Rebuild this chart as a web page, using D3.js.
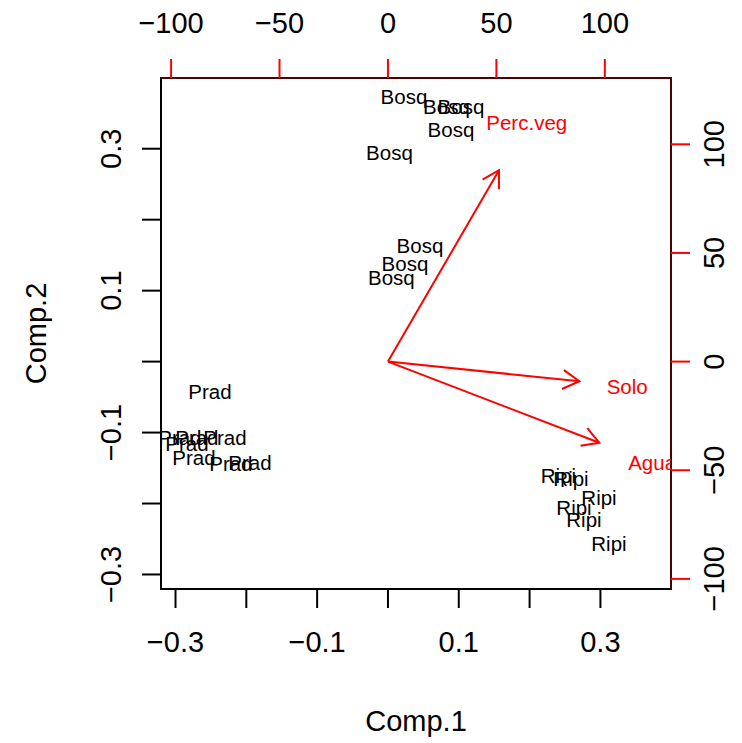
<!DOCTYPE html>
<html><head><meta charset="utf-8">
<script src="https://cdn.jsdelivr.net/npm/d3@7/dist/d3.min.js"></script>
<style>body{margin:0;background:#fff}svg{display:block}text{font-family:"Liberation Sans",Arial,sans-serif}</style>
</head><body>
<script>
// Scores (Comp.1, Comp.2)
const obsLabels = ["Bosq","Bosq","Bosq","Bosq","Bosq","Bosq","Bosq","Bosq",
  "Prad","Prad","Prad","Prad","Prad","Prad","Prad","Prad",
  "Ripi","Ripi","Ripi","Ripi","Ripi","Ripi"];
const comp1 = [0.0226,0.0826,0.1031,0.0890,0.0021,0.0452,0.0240,0.0049,
  -0.2514,-0.2938,-0.2698,-0.2302,-0.2839,-0.2740,-0.2218,-0.1949,
  0.2408,0.2585,0.2980,0.2627,0.2768,0.3121];
const comp2 = [0.3730,0.3590,0.3590,0.3265,0.2940,0.1629,0.1375,0.1178,
  -0.0430,-0.1065,-0.1065,-0.1065,-0.1149,-0.1347,-0.1432,-0.1417,
  -0.1608,-0.1650,-0.1911,-0.2059,-0.2221,-0.2567];
// Loadings
const varLabels = ["Perc.veg","Solo","Agua"];
const load1 = [64.0,110.3,121.8];
const load2 = [110.1,-11.3,-46.7];
// Axis ticks
const scoreTicks = [-0.3,-0.2,-0.1,0,0.1,0.2,0.3];
const scoreTickLabels = ["−0.3","","−0.1","","0.1","","0.3"];
const loadTicks = [-100,-50,0,50,100];
const loadTickLabels = ["−100","−50","0","50","100"];
const xTitle = "Comp.1", yTitle = "Comp.2";

const W=742,H=743;
const L=161,R=671,T=78,B=589;
const svg=d3.select("body").append("svg").attr("width",W).attr("height",H);

// limits as R biplot
const ur = a => [-Math.abs(d3.min(a)), Math.abs(d3.max(a))];
const rx1=ur(comp1), rx2=ur(comp2);
const lim=[Math.min(rx1[0],rx2[0]),Math.max(rx1[1],rx2[1])];
const ry1=ur(load1), ry2=ur(load2);
const ratio=Math.max(ry1[0]/lim[0],ry1[1]/lim[1],ry2[0]/lim[0],ry2[1]/lim[1]);
const pad=(lim[1]-lim[0])*0.04;
const dom=[lim[0]-pad,lim[1]+pad];
const x=d3.scaleLinear().domain(dom).range([L,R]);
const y=d3.scaleLinear().domain(dom).range([B,T]);
const x2=d3.scaleLinear().domain(dom.map(v=>v*ratio)).range([L,R]);
const y2=d3.scaleLinear().domain(dom.map(v=>v*ratio)).range([B,T]);

svg.append("defs").append("clipPath").attr("id","clip").append("rect")
  .attr("x",L).attr("y",T).attr("width",R-L).attr("height",B-T);

const FS_AX=29, FS_PT=20.5, TK=19;
// bottom axis
const gb=svg.append("g");
gb.append("line").attr("x1",x(-0.3)).attr("x2",x(0.3)).attr("y1",B).attr("y2",B).attr("stroke","#000").attr("stroke-width",2);
scoreTicks.forEach((t,i)=>{
  gb.append("line").attr("x1",x(t)).attr("x2",x(t)).attr("y1",B).attr("y2",B+TK).attr("stroke","#000").attr("stroke-width",2);
  if(scoreTickLabels[i]) gb.append("text").attr("x",x(t)).attr("y",651.5).attr("text-anchor","middle").attr("font-size",FS_AX).text(scoreTickLabels[i]);
});
// left axis
scoreTicks.forEach((t,i)=>{
  svg.append("line").attr("x1",L-TK).attr("x2",L).attr("y1",y(t)).attr("y2",y(t)).attr("stroke","#000").attr("stroke-width",2);
  if(scoreTickLabels[i]) svg.append("text").attr("transform",`translate(120.5,${y(t)}) rotate(-90)`).attr("text-anchor","middle").attr("font-size",FS_AX).text(scoreTickLabels[i]);
});
svg.append("text").attr("x",(L+R)/2).attr("y",730.5).attr("text-anchor","middle").attr("font-size",FS_AX).text(xTitle);
svg.append("text").attr("transform",`translate(45.5,${(T+B)/2}) rotate(-90)`).attr("text-anchor","middle").attr("font-size",FS_AX).text(yTitle);

// points
const gp=svg.append("g").attr("clip-path","url(#clip)");
obsLabels.forEach((lab,i)=>{
  gp.append("text").attr("x",x(comp1[i])).attr("y",y(comp2[i])+FS_PT*0.36).attr("text-anchor","middle")
    .attr("font-size",FS_PT).attr("fill","#000").text(lab);
});
// box
svg.append("rect").attr("x",L).attr("y",T).attr("width",R-L).attr("height",B-T).attr("fill","none").attr("stroke","#000").attr("stroke-width",2);

// top & right axes (red)
svg.append("line").attr("x1",L).attr("x2",R).attr("y1",T).attr("y2",T).attr("stroke","#500000").attr("stroke-width",2);
svg.append("line").attr("x1",R).attr("x2",R).attr("y1",T).attr("y2",B).attr("stroke","#500000").attr("stroke-width",2);
loadTicks.forEach((t,i)=>{
  svg.append("line").attr("x1",x2(t)).attr("x2",x2(t)).attr("y1",T-TK).attr("y2",T).attr("stroke","red").attr("stroke-width",2);
  svg.append("text").attr("x",x2(t)).attr("y",32.5).attr("text-anchor","middle").attr("font-size",FS_AX).text(loadTickLabels[i]);
  svg.append("line").attr("x1",R).attr("x2",R+TK).attr("y1",y2(t)).attr("y2",y2(t)).attr("stroke","red").attr("stroke-width",2);
  svg.append("text").attr("transform",`translate(723.5,${y2(t)}) rotate(-90)`).attr("text-anchor","middle").attr("font-size",FS_AX).text(loadTickLabels[i]);
});

// arrows
const ga=svg.append("g").attr("clip-path","url(#clip)");
const AL=19, ANG=Math.PI/6;
varLabels.forEach((lab,i)=>{
  const x0=x2(0),y0=y2(0),x1=x2(load1[i]*0.8),y1=y2(load2[i]*0.8);
  const a=Math.atan2(y1-y0,x1-x0);
  ga.append("line").attr("x1",x0).attr("y1",y0).attr("x2",x1).attr("y2",y1).attr("stroke","red").attr("stroke-width",2);
  ga.append("path").attr("d",`M${x1-AL*Math.cos(a-ANG)},${y1-AL*Math.sin(a-ANG)}L${x1},${y1}L${x1-AL*Math.cos(a+ANG)},${y1-AL*Math.sin(a+ANG)}`)
    .attr("fill","none").attr("stroke","red").attr("stroke-width",2);
  ga.append("text").attr("x",x2(load1[i])).attr("y",y2(load2[i])+FS_PT*0.36).attr("text-anchor","middle")
    .attr("font-size",FS_PT).attr("fill","red").text(lab);
});
</script>
</body></html>
